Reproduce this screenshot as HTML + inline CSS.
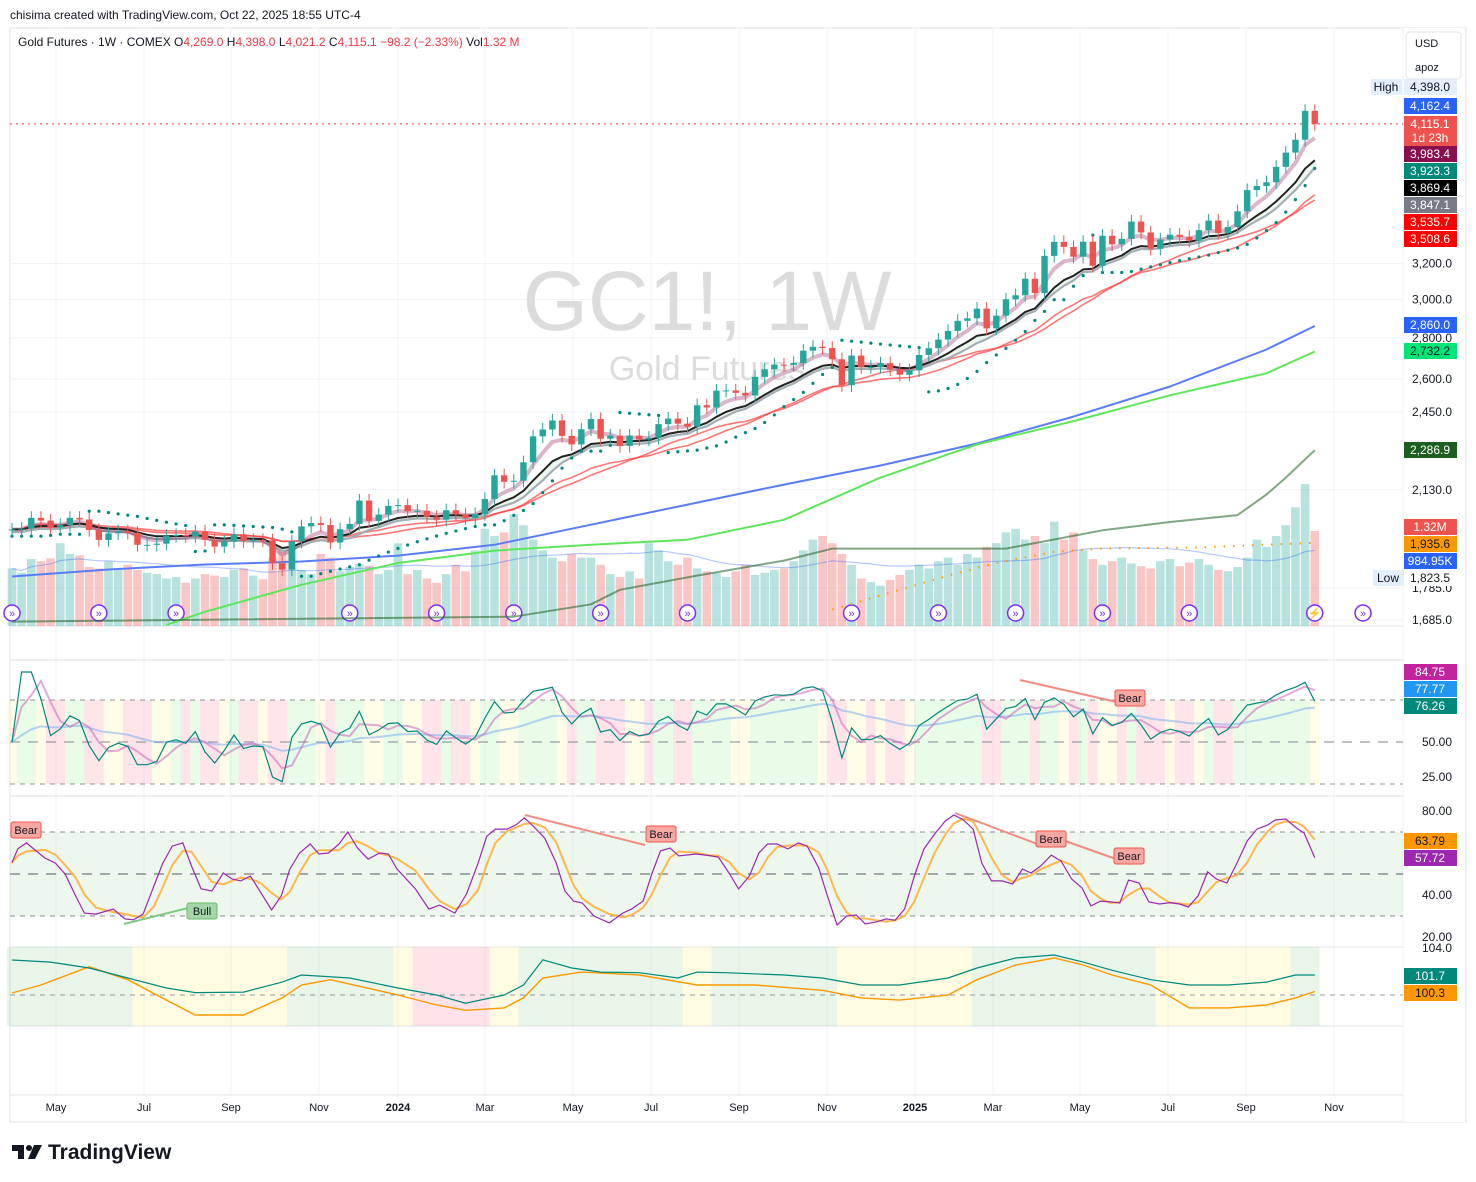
<!DOCTYPE html>
<html><head><meta charset="utf-8"><style>
html,body{margin:0;padding:0;background:#fff;}
svg{display:block;font-family:"Liberation Sans",sans-serif;}
</style></head><body>
<svg id="c" width="1476" height="1182" viewBox="0 0 1476 1182" xmlns="http://www.w3.org/2000/svg">
<rect x="0" y="0" width="1476" height="1182" fill="#fff"/>
<text x="10" y="19" font-size="12" fill="#131722">chisima created with TradingView.com, Oct 22, 2025 18:55 UTC-4</text>
<rect x="10" y="28" width="1456" height="1094" fill="none" stroke="#e0e3eb"/>
<g id="grid"></g>
<g id="bands"></g>
<text x="707" y="330" font-size="84" fill="#dcdcdc" text-anchor="middle">GC1!, 1W</text>
<text x="707" y="380" font-size="34" fill="#dcdcdc" text-anchor="middle">Gold Futures</text>
<g id="vol"></g>
<g id="lines"></g>
<g id="candles"></g>
<g id="sub"></g>
<g id="axis"></g>
<g id="legend">
<text x="18" y="46" font-size="12" fill="#131722">Gold Futures · 1W · COMEX <tspan>O</tspan><tspan fill="#f23645">4,269.0</tspan> <tspan>H</tspan><tspan fill="#f23645">4,398.0</tspan> <tspan>L</tspan><tspan fill="#f23645">4,021.2</tspan> <tspan>C</tspan><tspan fill="#f23645">4,115.1 −98.2 (−2.33%)</tspan> <tspan>Vol</tspan><tspan fill="#f23645">1.32 M</tspan></text>
</g>
<g>
<rect x="1406" y="32" width="55" height="47" rx="4" fill="#fff" stroke="#e0e3eb"/>
<text x="1415" y="47" font-size="11" fill="#131722">USD</text>
<text x="1415" y="71" font-size="11" fill="#131722">apoz</text>
</g>
<g>
<path d="M12 1145h12v14h-6v-8h-6z" fill="#131722"/>
<circle cx="29" cy="1148" r="3" fill="#131722"/>
<path d="M34 1145h8l-7 14h-7z" fill="#131722"/>
<text x="48" y="1159" font-size="21" font-weight="bold" fill="#131722">TradingView</text>
</g>
</svg>
<script>
// ---- data (weekly, Mar 20 2023 .. Oct 20 2025) ----
const closes = [1983,1986,2025,2015,1990,1999,2025,2019,1981,1946,1969,1977,1971,1929,1929,1933,1960,1964,1959,1976,1946,1923,1940,1966,1942,1946,1945,1866,1845,1941,1994,2006,1999,1937,1984,2003,2089,2014,2037,2069,2072,2049,2051,2029,2018,2053,2038,2024,2039,2095,2186,2161,2165,2238,2345,2374,2413,2347,2311,2375,2419,2335,2348,2305,2348,2332,2339,2397,2421,2399,2386,2480,2470,2546,2547,2536,2524,2610,2646,2668,2667,2676,2736,2755,2749,2694,2571,2712,2657,2657,2675,2645,2620,2641,2715,2748,2791,2835,2887,2900,2951,2848,2914,3001,3023,3114,3035,3245,3328,3298,3240,3329,3188,3365,3313,3346,3452,3385,3287,3342,3371,3358,3335,3399,3458,3382,3418,3516,3653,3680,3705,3809,3908,4000,4213,4115.1];
const volumesK = [800,740,930,900,940,1150,1000,980,820,800,900,780,850,780,740,720,660,680,600,660,720,700,680,780,800,700,650,950,1050,1100,780,720,1000,950,760,820,860,840,720,780,1150,720,780,660,600,720,850,760,1050,1350,1250,1300,1550,1400,1200,1050,950,900,1000,950,950,850,720,680,760,660,1150,1050,900,850,950,800,760,740,680,760,850,710,740,780,800,900,1050,1200,1250,1150,1000,850,660,610,560,640,710,780,850,800,900,950,850,1000,950,1100,1150,1300,1350,1200,1250,1150,1450,1200,1300,1050,930,850,900,950,870,830,800,900,930,830,880,930,850,780,760,820,950,1200,1100,1250,1400,1650,1970,1320];
const blueIdx = [0,10,20,30,40,50,60,70,80,90,100,110,120,130,135];
const blueVals = [1822,1845,1862,1872,1892,1929,2000,2074,2150,2225,2315,2430,2565,2742,2860];
const greenIdx = [16,20,30,40,50,60,70,80,90,100,110,120,130,135];
const greenVals = [1670,1710,1795,1867,1909,1929,1947,2018,2177,2311,2410,2525,2627,2732];
const dkIdx = [0,52,60,63,71,80,85,103,113,120,127,130,132,135];
const dkVals = [1680,1695,1733,1779,1825,1875,1916,1916,1980,2010,2035,2112,2177,2287];
const orIdx = [85,92,97,102,108,113,123,135];
const orVals = [1717,1779,1825,1867,1905,1916,1920,1936];
const momIdx = [0,4,8,12,16,19,24,28,30,35,40,44,47,51,53,55,58,61,65,69,71,74,80,84,88,92,97,100,104,108,111,114,118,122,126,130,133,135];
const momVals = [102.98,102.8,102.3,101.45,100.6,100.2,100.25,101.1,101.7,101.45,100.6,100.0,99.3,100.0,100.85,103.0,102.3,101.95,101.9,101.45,101.95,101.9,101.7,101.45,100.85,100.85,101.45,102.3,103.15,103.4,102.8,102.1,101.3,100.85,100.85,101.1,101.7,101.7];
const sigIdx = [0,3,8,12,16,19,24,28,30,33,40,44,47,51,53,55,59,65,71,77,84,88,92,97,100,104,108,111,114,118,122,126,130,133,135];
const sigVals = [100.17,100.85,102.4,101.3,99.57,98.3,98.3,99.75,100.85,101.3,100.0,99.15,98.7,98.9,99.75,101.45,101.95,101.7,100.85,100.85,100.4,99.75,99.57,100.0,101.3,102.55,103.15,102.55,101.7,100.85,98.9,98.9,99.15,99.75,100.3];
const stochIdx = [0,0.6,1.5,3.4,4.5,5.5,6.6,7.5,8.7,10.5,11.7,12.6,13.6,14.7,15.6,16.6,17.7,18.6,19.6,20.7,21.9,22.8,23.7,24.7,25.8,26.9,27.9,28.8,29.8,30.9,31.8,32.8,33.9,34.8,35.8,36.9,38.1,39.0,39.9,41.8,43.2,44.3,45.9,47.1,48.3,49.2,50.1,51.3,52.2,53.1,54.0,55.2,56.4,57.3,58.2,59.1,60.3,61.9,63.3,64.2,65.4,66.3,67.2,68.2,69.1,70.9,72.2,73.2,74.3,75.3,76.4,77.4,78.3,79.3,80.4,81.5,82.4,83.6,84.5,85.5,86.5,87.5,88.4,89.5,90.6,91.5,92.5,93.5,94.5,95.6,96.7,97.6,98.6,99.6,100.5,101.5,102.6,103.7,104.7,105.6,106.6,107.7,108.7,109.8,110.9,111.8,112.8,113.8,114.8,115.7,116.8,117.8,118.9,120.0,121.0,121.9,122.9,123.9,124.8,125.9,126.9,128.0,129.0,130.1,130.9,132.0,133.1,133.9,135];
const stochK = [55.4,62,64.8,57.6,55.2,50,39.5,31.4,30.9,33.3,28.6,28.2,31,44.3,54.8,63.3,64.8,53.8,42.9,41.9,50.5,47.6,46.7,49,41,32.9,39.5,52.4,60,64.3,59.5,60,64.3,70,62.4,57.1,60,59.5,52.4,42.9,33.3,35.2,31.4,40.5,55.2,68,71.4,71.4,73.3,76.7,72.9,67.1,55.2,41.9,37.1,36.2,30,26.7,31.4,33.3,37.1,50,61,62.4,58.6,59.5,58.8,58,50.5,42.9,49,60,64.3,64.3,61.9,64.8,63.3,52.9,39.5,25.7,30,30.5,26.2,27.1,28.6,28,33.3,49,61.9,69,75.2,78.1,75.7,71.4,55.2,46.7,46.7,45.2,52.4,50.5,53.8,59,56.2,47.6,43.3,34.8,37.1,36.7,36.2,47.1,45.7,36.7,35.7,36.4,35.7,34.3,39.5,51,47.6,45.7,54.8,65.7,71.4,73.3,75.7,76.2,71.9,69.5,57.7];
const regimeStart = [0,13,29,40,42,50,53,70,73,86,100,119,133];
const regimeKind = ['g','y','g','y','p','y','g','y','g','y','g','y','g'];
const priceTicks = [3200,3000,2800,2600,2450,2130,1785,1685];
const timeLabels = ['May','Jul','Sep','Nov','2024','Mar','May','Jul','Sep','Nov','2025','Mar','May','Jul','Sep','Nov'];
const timePos = [56,144,231,319,398,485,573,651,739,827,915,993,1080,1168,1246,1334];
const eventIdx = [0,9,17,35,44,52,61,70,87,96,104,113,122,135,140];

// ---- scales ----
const NS='http://www.w3.org/2000/svg';
const X = i => 12 + i*9.65;
const LMAX = Math.log(4398);
const Y = p => 87 + (LMAX - Math.log(p))*555.5;
const YV = v => 626 - v*0.072;
const YR = v => 742 - (v-50)*1.4;
const YS = v => 874 - (v-50)*2.1;
const YM = v => 995 - (v-100)*11.75;
function mk(tag, attrs, parent){const e=document.createElementNS(NS,tag);for(const k in attrs)e.setAttribute(k,attrs[k]);parent.appendChild(e);return e;}
const G = id => document.getElementById(id);
const N = closes.length;
const opens = closes.map((c,i)=> i===0 ? c : closes[i-1]);
const highs = closes.map((c,i)=> Math.max(c,opens[i])*1.012);
const lows = closes.map((c,i)=> Math.min(c,opens[i])*0.988);
function ema(a,n){const k=2/(n+1);const o=[];a.forEach((v,i)=>o.push(i?o[i-1]+k*(v-o[i-1]):v));return o;}
function sma(a,n){return a.map((v,i)=>{const s=a.slice(Math.max(0,i-n+1),i+1);return s.reduce((x,y)=>x+y,0)/s.length;});}
function pathOf(xs,ys){return xs.map((x,i)=>(i?'L':'M')+x.toFixed(1)+' '+ys[i].toFixed(1)).join(' ');}

// ---- grid ----
const grid=G('grid');
priceTicks.forEach(p=>{const l=mk('line',{x1:10,x2:1403,y1:Y(p),y2:Y(p),stroke:'#f0f3fa'},grid);

});
timePos.forEach(x=>{const l=mk('line',{x1:x,x2:x,y1:28,y2:1095,stroke:'#f0f3fa'},grid);

});
[626,660,796,947,1026,1095].forEach(y=>{const l=mk('line',{x1:10,x2:1466,y1:y,y2:y,stroke:'#e0e3eb'},grid);

});
mk('line',{x1:1403,x2:1403,y1:28,y2:1122,stroke:'#f0f3fa'},grid);

// ---- volume ----
const vol=G('vol');
volumesK.forEach((v,i)=>{const up=closes[i]>=opens[i];
const r=mk('rect',{x:X(i)-4.3,y:YV(v),width:8.6,height:626-YV(v),fill:up?'rgba(38,166,154,0.33)':'rgba(239,83,80,0.33)'},vol);

});
const vma=sma(volumesK,20);
const vl=mk('path',{d:pathOf(vma.map((v,i)=>X(i)),vma.map(YV)),fill:'none',stroke:'rgba(41,98,255,0.35)','stroke-width':1.2},vol);


eventIdx.forEach((ix,k)=>{const c=mk('circle',{cx:Math.min(X(ix),1364),cy:613,r:8,fill:'#fff',stroke:'#7b2ff7','stroke-width':1.5},vol);


const t=mk('text',{x:Math.min(X(ix),1364),y:617,'font-size':11,fill:'#7b2ff7','text-anchor':'middle'},vol);t.textContent=k===13?'⚡':'»';});

// ---- price indicator lines ----
const lines=G('lines');
const e5=ema(closes,5), e10=ema(closes,10), s10=sma(closes,10).map((v,i)=>Math.min(v,e10[i]*0.995)), s20=sma(closes,20), e26=ema(closes,22);
const xs=closes.map((c,i)=>X(i));
let fill=pathOf(xs,e10.map(Y))+' '+xs.slice().reverse().map((x,j)=>'L'+x.toFixed(1)+' '+Y(s10[N-1-j]).toFixed(1)).join(' ')+'Z';
const fp=mk('path',{d:fill,fill:'rgba(76,175,80,0.1)'},lines);


function addLine(vals,stroke,w,name,ix){const xx=ix?ix.map(X):xs;const p=mk('path',{d:pathOf(xx,vals.map(Y)),fill:'none',stroke:stroke,'stroke-width':w,'stroke-linejoin':'round'},lines);return p;}
addLine(blueVals,'#5b7cf7',2,'ma-blue-line',blueIdx);
addLine(greenVals,'#5ee65b',2,'ma-green-line',greenIdx);
addLine(dkVals,'rgba(27,94,32,0.55)',2,'ma-darkgreen-line',dkIdx);
const od=addLine(orVals,'#ff9800',2,'orange-dotted-line',orIdx);od.setAttribute('stroke-dasharray','1.5 8');
addLine(s20,'rgba(255,60,60,0.7)',1.6,'sma20-line');
addLine(e26,'rgba(255,60,60,0.7)',1.6,'ema26-line');
addLine(s10,'#a5adb5',2.2,'lower-band-line');
addLine(e5,'rgba(136,14,79,0.3)',4,'ema5-line');
addLine(e10,'#222',2,'ema10-line');
// parabolic SAR
(function(){let up=true,af=.02,ep=highs[0],sar=lows[0];const out=[sar];
for(let i=1;i<N;i++){sar=sar+af*(ep-sar);
 if(up){sar=Math.min(sar,lows[i-1],lows[Math.max(0,i-2)]);if(lows[i]<sar){up=false;sar=ep;ep=lows[i];af=.02;}else if(highs[i]>ep){ep=highs[i];af=Math.min(af+.02,.2);}}
 else{sar=Math.max(sar,highs[i-1],highs[Math.max(0,i-2)]);if(highs[i]>sar){up=true;sar=ep;ep=highs[i];af=.02;}else if(lows[i]<ep){ep=lows[i];af=Math.min(af+.02,.2);}}
 out.push(sar);}
out.forEach((v,i)=>{const d=mk('circle',{cx:X(i),cy:Y(v),r:1.6,fill:'#00897b'},lines);

});})();
const cp=mk('line',{x1:10,x2:1403,y1:Y(closes[N-1]),y2:Y(closes[N-1]),stroke:'#f23645','stroke-dasharray':'2 4'},lines);



// ---- candles ----
const cg=G('candles');
closes.forEach((c,i)=>{const o=opens[i],up=c>=o,col=up?'#26a69a':'#ef5350';
const g=mk('g',{},cg);


mk('line',{x1:X(i),x2:X(i),y1:Y(highs[i]),y2:Y(lows[i]),stroke:col,'stroke-width':1},g);
const top=Y(Math.max(o,c)),bot=Y(Math.min(o,c));
mk('rect',{x:X(i)-3.2,y:top,width:6.4,height:Math.max(1,bot-top),fill:col},g);});

// ---- RSI pane ----
const sub=G('sub'), bands=G('bands');
function rsi(a,n){const o=[50];let ag=0,al=0;for(let i=1;i<a.length;i++){const d=a[i]-a[i-1];const g=Math.max(d,0),l=Math.max(-d,0);if(i<=n){ag+=g/n;al+=l/n;}else{ag=(ag*(n-1)+g)/n;al=(al*(n-1)+l)/n;}o.push(al===0?100:100-100/(1+ag/al));}return o;}
const r1=rsi(closes,7), r2=sma(r1,3), r3=ema(r1,20);
r1.forEach((v,i)=>{const col=(v>r2[i]&&v>r3[i])?'rgba(76,230,76,0.13)':(v<r2[i]&&v<r3[i])?'rgba(255,82,110,0.15)':'rgba(255,240,120,0.18)';
const b=mk('rect',{x:X(i)-4.83,y:700,width:9.66,height:84,fill:col},bands);

});
[[700,'#787b86'],[742,'#9598a1'],[784,'#787b86']].forEach(([y,c],k)=>{mk('line',{x1:10,x2:1403,y1:y,y2:y,stroke:c,'stroke-dasharray':k===1?'10 8':'5 5','stroke-width':k===1?1.5:1,opacity:.8},sub);});
function subLine(vals,ys,stroke,w,name,ix){const xx=ix?ix.map(X):xs;const p=mk('path',{d:pathOf(xx,vals.map(ys)),fill:'none',stroke:stroke,'stroke-width':w},sub);return p;}
subLine(r3,YR,'rgba(100,160,240,0.45)',2,'rsi-slow-line');
subLine(r2,YR,'rgba(200,100,190,0.55)',2,'rsi-signal-line');
subLine(r1,YR,'#00897b',1.2,'rsi-line');

// ---- Stochastic pane ----
mk('rect',{x:10,y:832,width:1393,height:84,fill:'rgba(76,175,80,0.1)'},bands);
[[832,'5 5'],[874,'10 8'],[916,'5 5']].forEach(([y,d])=>mk('line',{x1:10,x2:1403,y1:y,y2:y,stroke:'#8a8d96','stroke-dasharray':d,'stroke-width':y===874?1.5:1},sub));
const stochD = sma(stochK,3);
subLine(stochD,YS,'#ffb74d',2,'stoch-d-line',stochIdx);
subLine(stochK,YS,'#9c27b0',1.2,'stoch-k-line',stochIdx);

// ---- bottom momentum pane ----
regimeStart.forEach((s,k)=>{const e=k<regimeStart.length-1?regimeStart[k+1]:136;
const b=mk('rect',{x:X(s)-4.83,y:947,width:(e-s)*9.65,height:79,fill:{g:'rgba(76,175,80,0.13)',y:'rgba(255,235,59,0.15)',p:'rgba(255,82,110,0.16)'}[regimeKind[k]]},bands);

});
mk('line',{x1:10,x2:1403,y1:995,y2:995,stroke:'#9598a1','stroke-dasharray':'5 5'},sub);
subLine(sigVals,YM,'#ff9800',1.4,'momentum-signal-line',sigIdx);
subLine(momVals,YM,'#00897b',1.2,'momentum-line',momIdx);

// ---- divergence annotations ----
function tag(x,y,txt,bg,bd,name){const g=mk('g',{},sub);
mk('rect',{x:x-15,y:y-8,width:30,height:16,rx:2,fill:bg,stroke:bd},g);
const t=mk('text',{x:x,y:y+4,'font-size':11,fill:'#131722','text-anchor':'middle'},g);t.textContent=txt;}
[[525,815,645,845],[955,813,1040,845],[1040,832,1130,864]].forEach(a=>mk('line',{x1:a[0],y1:a[1],x2:a[2],y2:a[3],stroke:'#f28b82','stroke-width':2},sub));
mk('line',{x1:1020,y1:680,x2:1130,y2:705,stroke:'#f28b82','stroke-width':2},sub);
mk('line',{x1:124,y1:924,x2:200,y2:905,stroke:'#81c784','stroke-width':2},sub);
tag(26,830,'Bear','#f7a8a3','#ef5350','bear-divergence-label');
tag(661,834,'Bear','#f7a8a3','#ef5350','bear-divergence-label');
tag(1051,839,'Bear','#f7a8a3','#ef5350','bear-divergence-label');
tag(1129,856,'Bear','#f7a8a3','#ef5350','bear-divergence-label');
tag(1130,698,'Bear','#f7a8a3','#ef5350','bear-divergence-label');
tag(202,911,'Bull','#a5d6a7','#66bb6a','bull-divergence-label');

// ---- axes ----
const ax=G('axis');
mk('rect',{x:1404,y:28,width:61,height:1094,fill:'#fff'},ax);
mk('line',{x1:1466,x2:1466,y1:28,y2:1122,stroke:'#e0e3eb'},ax);
function fmt(p){return p.toLocaleString('en-US',{minimumFractionDigits:1,maximumFractionDigits:1});}
priceTicks.forEach(p=>{const t=mk('text',{x:1452,y:Y(p)+4,'font-size':12,fill:'#131722','text-anchor':'end'},ax);t.textContent=fmt(p);

});
[[811,'80.00'],[895,'40.00'],[937,'20.00'],[742,'50.00'],[777,'25.00']].forEach(([y,s])=>{const t=mk('text',{x:1452,y:y+4,'font-size':12,fill:'#131722','text-anchor':'end'},ax);t.textContent=s;});
function box(y,txt,bg,fg,name,h){const g=mk('g',{},ax);
mk('rect',{x:1404,y:y-8,width:53,height:h||16,fill:bg},g);
const t=mk('text',{x:1430,y:y+4,'font-size':12,fill:fg,'text-anchor':'middle'},g);t.textContent=txt;return g;}
box(87,'4,398.0','#e3effd','#131722','high-price-label');
box(106,'4,162.4','#2962ff','#fff','ema-blue-value');
const cl=box(124,fmt(closes[N-1]),'#ef5350','#fff','last-price-label',30);
const t2=mk('text',{x:1430,y:142,'font-size':12,fill:'#fff','text-anchor':'middle'},cl);t2.textContent='1d 23h';
box(154,'3,983.4','#880e4f','#fff','ema5-value');
box(171,'3,923.3','#00897b','#fff','sar-value');
box(188,'3,869.4','#000','#fff','ema10-value');
box(205,'3,847.1','#787b86','#fff','lower-band-value');
box(222,'3,535.7','#ff0000','#fff','sma20-value');
box(239,'3,508.6','#ff0000','#fff','ema26-value');
box(325,fmt(blueVals[blueVals.length-1]),'#2962ff','#fff','ma-blue-value');
box(351,'2,732.2','#00e676','#131722','ma-green-value');
box(450,'2,286.9','#1b5e20','#fff','ma-darkgreen-value');
box(527,(volumesK[N-1]/1000).toFixed(2)+'M','#ef5350','#fff','volume-value');
box(544,'1,935.6','#ff9800','#131722','orange-line-value');
box(561,'984.95K','#2962ff','#fff','volume-ma-value');
box(578,'1,823.5','#fff','#131722','low-price-label');
box(672,'84.75','#c2249e','#fff','rsi-signal-value');
box(689,'77.77','#2196f3','#fff','rsi-slow-value');
box(706,'76.26','#00897b','#fff','rsi-value');
box(841,'63.79','#ff9800','#131722','stoch-d-value');
box(858,'57.72','#9c27b0','#fff','stoch-k-value');
const t104=mk('text',{x:1452,y:952,'font-size':12,fill:'#131722','text-anchor':'end'},ax);t104.textContent='104.0';
box(976,'101.7','#00897b','#fff','momentum-value');
box(993,'100.3','#ff9800','#131722','momentum-signal-value');
[[1371,87,'High'],[1373,578,'Low']].forEach(([x,y,s])=>{mk('rect',{x:x,y:y-8,width:31,height:16,fill:'#e3effd'},ax);const t=mk('text',{x:x+15,y:y+4,'font-size':12,fill:'#131722','text-anchor':'middle'},ax);t.textContent=s;});
timeLabels.forEach((s,k)=>{const t=mk('text',{x:timePos[k],y:1111,'font-size':11,fill:'#131722','text-anchor':'middle','font-weight':(s==='2024'||s==='2025')?'bold':'normal'},ax);t.textContent=s;

});
</script>
</body></html>
